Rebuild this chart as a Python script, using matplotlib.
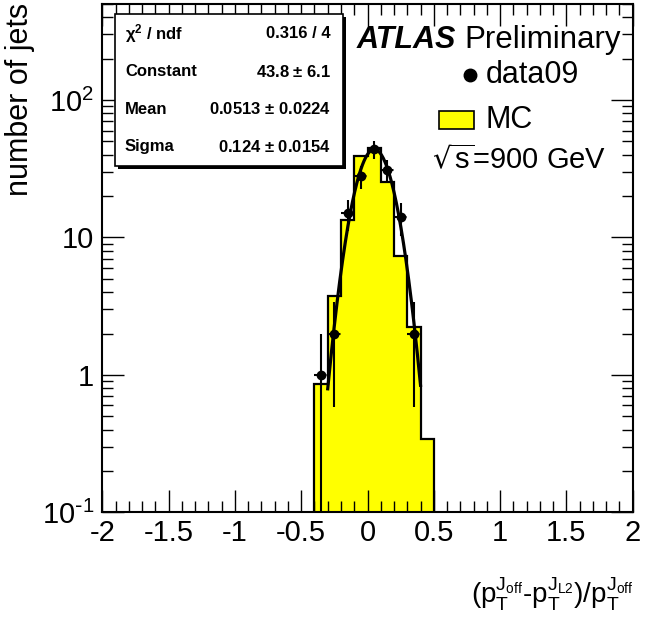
import numpy as np
import matplotlib
matplotlib.use('Agg')
import matplotlib.pyplot as plt
from matplotlib.patches import Rectangle
from matplotlib.ticker import MultipleLocator, LogLocator, NullFormatter

plt.rcParams['font.family'] = ['Liberation Sans', 'DejaVu Sans']
plt.rcParams['mathtext.default'] = 'regular'
plt.rcParams['axes.unicode_minus'] = False

# MC histogram (bin edges and contents, 0.1 wide bins)
mc_edges = [-0.4, -0.3, -0.2, -0.1, 0.0, 0.1, 0.2, 0.3, 0.4, 0.5]
mc_counts = [0.86, 3.77, 13.4, 39.3, 44.5, 25.2, 7.37, 2.22, 0.343]

# data09 points (bin centres and counts)
data_x = [-0.35, -0.25, -0.15, -0.05, 0.05, 0.15, 0.25, 0.35]
data_y = [1, 2, 15, 28, 44, 31, 14, 2]

# gaussian fit result
fit_const, fit_mean, fit_sigma = 43.8, 0.0513, 0.124
fit_range = (-0.3, 0.4)

fig = plt.figure(figsize=(6.58, 6.18), dpi=100)
ax = fig.add_axes([102.3 / 658, 1 - 512.3 / 618, 530.4 / 658, 508.3 / 618])

# MC histogram
ax.stairs(mc_counts, mc_edges, fill=True, color='#ffff00', zorder=1)
ax.stairs(mc_counts, mc_edges, color='black', lw=1.6, baseline=1e-3, zorder=2)

# data with poisson errors
yerr_lo = [min(np.sqrt(v), v - 1e-3) for v in data_y]
yerr_hi = [np.sqrt(v) for v in data_y]
ax.errorbar(data_x, data_y, yerr=[yerr_lo, yerr_hi], fmt='o', color='black',
            ms=6, elinewidth=1.5, capsize=0, zorder=4)
for x, y in zip(data_x, data_y):
    ax.plot([x - 0.05, x + 0.05], [y, y], color='black', lw=1.5,
            ls=(0, (2, 2)), zorder=4)

# fit curve
xf = np.linspace(fit_range[0], fit_range[1], 300)
yf = fit_const * np.exp(-0.5 * ((xf - fit_mean) / fit_sigma) ** 2)
ax.plot(xf, yf, color='black', lw=2.3, zorder=5)

ax.set_xlim(-2, 2)
ax.set_yscale('log')
ax.set_ylim(0.1, 500)

ax.xaxis.set_minor_locator(MultipleLocator(0.1))
ax.set_xticks([-2, -1.5, -1, -0.5, 0, 0.5, 1, 1.5, 2])
ax.set_xticklabels(['-2', '-1.5', '-1', '-0.5', '0', '0.5', '1', '1.5', '2'])
ax.set_yticks([0.1, 1, 10, 100])
ax.set_yticklabels([r'$10^{\text{-}1}$', '1', '10', '$10^{2}$'])
ax.yaxis.set_minor_locator(LogLocator(base=10, subs=np.arange(2, 10)))
ax.yaxis.set_minor_formatter(NullFormatter())
ax.tick_params(which='both', direction='in', top=True, right=True, width=1,
               labelsize=21)
ax.tick_params(axis='x', pad=5)
ax.tick_params(axis='y', pad=6)
ax.tick_params(which='major', length=16)
ax.tick_params(which='minor', length=8)
for s in ax.spines.values():
    s.set_linewidth(1.5)

fig.text(20 / 658, 1 - 3 / 618, 'number of jets', rotation=90, ha='center',
         va='top', fontsize=22)
fig.text(633 / 658, 1 - 613 / 618,
         r'$(p_T^{J_{off}}$-$p_T^{J_{L2}})/p_T^{J_{off}}$',
         ha='right', va='bottom', fontsize=20)

# stat box with shadow
bx0, by0, bw, bh = 115, 14, 228, 152
fig.patches.append(Rectangle(((bx0 + 3) / 658, 1 - (by0 + bh + 3) / 618), bw / 658, bh / 618,
                             transform=fig.transFigure, facecolor='black', edgecolor='none', zorder=6))
fig.patches.append(Rectangle((bx0 / 658, 1 - (by0 + bh) / 618), bw / 658, bh / 618,
                             transform=fig.transFigure, facecolor='white', edgecolor='black',
                             lw=1.2, zorder=7))
stat_names = [r'$\chi^2$ / ndf', 'Constant', 'Mean', 'Sigma']
stat_vals = ['0.316 / 4', r'43.8 $\pm$ 6.1', r'0.0513 $\pm$ 0.0224', r'0.124 $\pm$ 0.0154']
stat_rows = [34, 72, 109, 147]
for name, val, yy in zip(stat_names, stat_vals, stat_rows):
    fig.text(125 / 658, 1 - yy / 618, name, ha='left', va='center',
             fontsize=12, fontweight='bold', zorder=8)
    fig.text(331 / 658, 1 - yy / 618, val, ha='right', va='center',
             fontsize=12, fontweight='bold', zorder=8)

# legend / labels
fig.text(357 / 658, 1 - 40 / 618, 'ATLAS', fontsize=22, fontweight='bold',
         style='italic', ha='left', va='center')
fig.text(621 / 658, 1 - 40 / 618, 'Preliminary', fontsize=22.5, ha='right', va='center')
fig.lines.append(plt.Line2D([470 / 658], [1 - 75 / 618], marker='o', ms=9, color='black',
                            transform=fig.transFigure))
fig.text(486 / 658, 1 - 75 / 618, 'data09', fontsize=22, ha='left', va='center')
fig.patches.append(Rectangle((439 / 658, 1 - 129 / 618), 35 / 658, 18 / 618,
                             transform=fig.transFigure, facecolor='#ffff00',
                             edgecolor='black', lw=1.2))
fig.text(486 / 658, 1 - 120 / 618, 'MC', fontsize=22, ha='left', va='center')
fig.text(432 / 658, 1 - 160 / 618, r'$\sqrt{s}$=900 GeV', fontsize=21,
         ha='left', va='center')

fig.savefig('out.png', dpi=100)
